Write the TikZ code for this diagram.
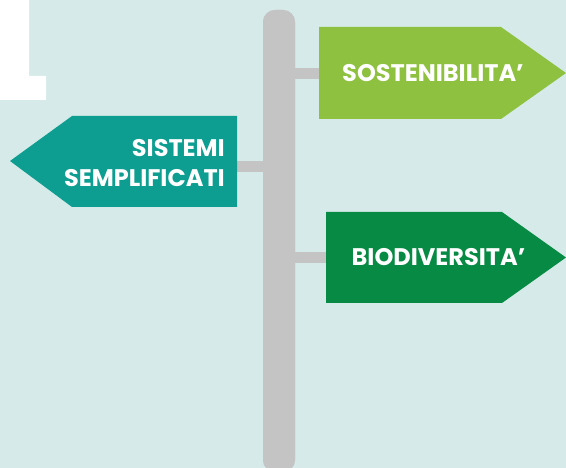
\documentclass[tikz,border=0pt]{standalone}
\usepackage{fontspec}
\setmainfont{Poppins}
\usepackage{xcolor}
\usetikzlibrary{positioning}
\definecolor{bgteal}{RGB}{214,235,233}
\definecolor{polegray}{RGB}{196,196,196}
\definecolor{signlime}{RGB}{141,193,63}
\definecolor{signgreen}{RGB}{7,138,67}
\definecolor{signteal}{RGB}{14,158,145}
\begin{document}
\begin{tikzpicture}[x=1pt, y=-1pt, every node/.style={text=white, inner sep=0pt, font=\bfseries\fontsize{24}{30}\selectfont}, arm/.style={draw=polegray, line width=11pt}]
\useasboundingbox (0,0) rectangle (566,468);
\clip (0,0) rectangle (566,468);
\filldraw[fill=bgteal, draw=bgteal] (0,0) rectangle (566,468);
\fill[white] (0,0) -- (29,0) -- (29,76) -- (46,76) -- (46,100) -- (0,100) -- cycle;

% arms
\coordinate (sost-w) at (319,73.5);
\coordinate (bio-w) at (326,257.5);
\coordinate (sist-e) at (237,167);
\node[fill=polegray, rounded corners=12pt, minimum width=32pt, minimum height=462pt] (pole) at (279,241) {};
\draw[arm] (pole.center |- sost-w) -- (sost-w);
\draw[arm] (pole.center |- bio-w) -- (bio-w);
\draw[arm] (pole.center |- sist-e) -- (sist-e);
\node[fill=polegray, rounded corners=12pt, minimum width=32pt, minimum height=462pt] at (pole) {};

% signs
\fill[signlime] (319,27) -- (501,27) -- (566,73) -- (501,119) -- (319,119) -- cycle;
\fill[signgreen] (326,212) -- (502,212) -- (566,257.5) -- (502,303) -- (326,303) -- cycle;
\fill[signteal] (237,116) -- (72,116) -- (10,161) -- (72,207) -- (237,207) -- cycle;

\node (sost) at (433,73) {SOSTENIBILITA’};
\node (bio) at (438.5,257) {BIODIVERSITA’};
\node[align=right, anchor=east] (sist) at (225,163) {SISTEMI\\SEMPLIFICATI};
\end{tikzpicture}
\end{document}
